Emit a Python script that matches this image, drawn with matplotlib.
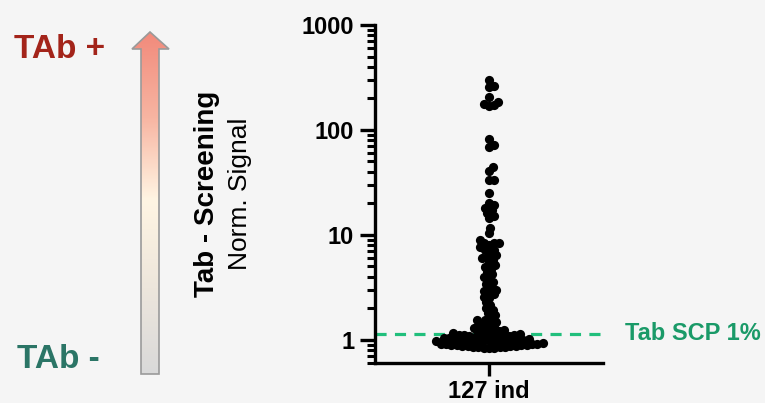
import numpy as np
import matplotlib
matplotlib.use("Agg")
import matplotlib.pyplot as plt
from matplotlib.colors import LinearSegmentedColormap
from matplotlib.patches import Polygon
from matplotlib.ticker import FixedLocator, LogLocator, NullFormatter

plt.rcParams['font.family'] = ['Liberation Sans', 'DejaVu Sans']
plt.rcParams['lines.scale_dashes'] = False

# --------------------------------
# Datos
# --------------------------------
top_vals = [300, 262, 255, 206, 186, 178, 172, 168]
high_vals = [82, 72, 68, 44, 40.6, 33.5, 33, 25]
mid_vals = [20.2, 19.3, 18.1, 17.3, 16.2, 15.2, 14.5, 11.7,
            10.4, 9.0, 8.4, 8.4, 8.4, 8.0, 7.6, 7.2, 7.2, 6.74, 6.45, 6.04, 6.04,
            5.8, 5.41, 5.1, 4.96, 4.74, 4.44, 4.2, 3.98, 3.8, 3.57, 3.4, 3.20,
            2.99, 2.93, 2.87, 2.7, 2.57, 2.51, 2.3, 2.15, 2.0, 1.93, 1.8, 1.73]
low_vals = [1.62, 1.55, 1.55, 1.48, 1.45, 1.39, 1.35, 1.33, 1.30, 1.28, 1.25]
base_vals = [1.22, 1.20, 1.18, 1.17, 1.15, 1.14, 1.13, 1.12, 1.11, 1.10,
             1.09, 1.08, 1.07, 1.06, 1.05, 1.05, 1.04, 1.03, 1.03, 1.02,
             1.01, 1.00, 1.00, 0.99, 0.99, 0.98, 0.97, 0.97, 0.96, 0.96,
             0.95, 0.95, 0.94, 0.94, 0.93, 0.93, 0.92, 0.92, 0.91, 0.91,
             0.90, 0.90, 0.89, 0.89, 0.88, 0.88, 0.87, 0.87, 0.86, 0.86,
             0.85, 0.85, 0.84, 0.84, 0.83]
values = np.array(top_vals + high_vals + mid_vals + low_vals + base_vals)

cutoff = 1.14
cutoff_label = 'Tab SCP 1%'
group_label = '127 ind'
y_ticks = [1, 10, 100, 1000]

bg = '#f5f5f5'
W, H = 765, 403

fig = plt.figure(figsize=(W / 100, H / 100), dpi=100, facecolor=bg)

# --------------------------------
# Grafico principal (escala log)
# --------------------------------
ax = fig.add_axes([375 / W, 40 / H, 228 / W, 338 / H])
ax.set_facecolor(bg)
ax.set_yscale('log')
ax.set_ylim(0.6, 1000)
ax.set_xlim(-1, 1)

# beeswarm simple en pixeles (con algo de solape, como Prism)
ypx = ax.transData.transform(np.column_stack([np.zeros(len(values)), values]))[:, 1]
dmin = 5.4
xs = np.zeros(len(values))
placed = []
for i in np.argsort(ypx):
    y = ypx[i]
    near = [(xs[j], ypx[j]) for j in placed if abs(ypx[j] - y) < dmin]
    cands = [0.0]
    for xj, yj in near:
        h = np.sqrt(dmin ** 2 - (yj - y) ** 2)
        cands += [xj + h, xj - h]
    cands.sort(key=abs)
    for c in cands:
        if all((c - xj) ** 2 + (y - yj) ** 2 >= dmin ** 2 - 1e-6 for xj, yj in near):
            xs[i] = c
            break
    placed.append(i)
px_per_unit = ax.transData.transform((1, 1))[0] - ax.transData.transform((0, 1))[0]
ax.scatter(xs / px_per_unit, values, s=44, color='black', linewidths=0, zorder=3)

ax.plot([-1, 0.99], [cutoff, cutoff], color='#21bf7c', lw=2.3, dashes=(8, 6), zorder=2)

for s in ['top', 'right']:
    ax.spines[s].set_visible(False)
for s in ['left', 'bottom']:
    ax.spines[s].set_linewidth(2.4)

ax.yaxis.set_major_locator(FixedLocator(y_ticks))
ax.set_yticklabels([str(t) for t in y_ticks], fontsize=17, fontweight='bold')
ax.yaxis.set_minor_locator(LogLocator(base=10, subs=np.arange(2, 10)))
ax.yaxis.set_minor_formatter(NullFormatter())
ax.tick_params(axis='y', which='major', length=11, width=2.4, pad=4)
ax.tick_params(axis='y', which='minor', length=6, width=2.2)
ax.set_xticks([0])
ax.set_xticklabels([group_label], fontsize=17, fontweight='bold')
ax.tick_params(axis='x', length=9, width=2.4, pad=3)

# --------------------------------
# Flecha con degradado y textos
# --------------------------------
ov = fig.add_axes([0, 0, 1, 1])
ov.set_xlim(0, W)
ov.set_ylim(H, 0)
ov.axis('off')
ov.patch.set_visible(False)

cmap = LinearSegmentedColormap.from_list('arrow', [
    (0.0, '#f28a7b'), (0.25, '#f7b5a2'), (0.49, '#fff5e3'),
    (0.75, '#ede6dc'), (1.0, '#d9d9d9')])
grad = np.linspace(0, 1, 256).reshape(-1, 1)
arrow_pts = [(141, 374), (141, 49), (132, 49), (150, 32), (169, 49), (159, 49), (159, 374)]
im = ov.imshow(grad, cmap=cmap, extent=[132, 169, 374, 32], origin='upper', aspect='auto')
poly = Polygon(arrow_pts, closed=True, facecolor='none', edgecolor='#9a9a9a', lw=1.2)
ov.add_patch(poly)
im.set_clip_path(poly)
ov.set_xlim(0, W)
ov.set_ylim(H, 0)

ov.text(60, 58, 'TAb +', fontsize=24, fontweight='bold', color='#a3241a', ha='center', va='baseline')
ov.text(58, 368, 'TAb -', fontsize=24, fontweight='bold', color='#2b7566', ha='center', va='baseline')
ov.text(207, 194, 'Tab - Screening', fontsize=20, fontweight='bold', rotation=90, ha='center', va='center')
ov.text(240, 194, 'Norm. Signal', fontsize=19, rotation=90, ha='center', va='center')
ov.text(625, 340, cutoff_label, fontsize=17, fontweight='bold', color='#1a9a68', ha='left', va='baseline')

fig.savefig('out.png', dpi=100, facecolor=bg)
